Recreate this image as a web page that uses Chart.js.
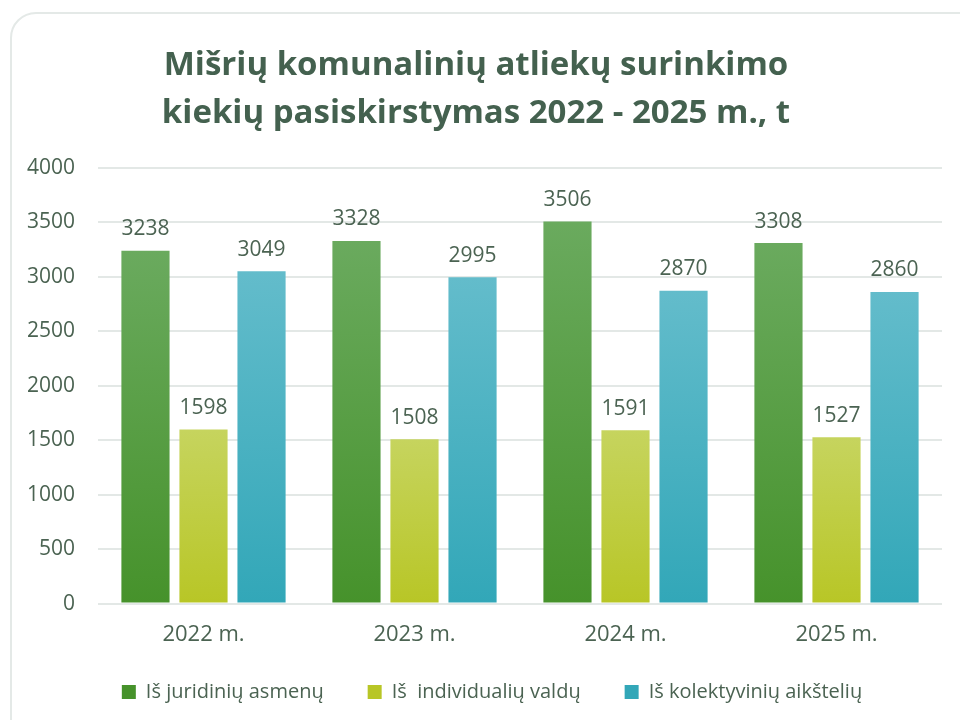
<!DOCTYPE html>
<html>
<head>
<meta charset="utf-8">
<script src="https://cdn.jsdelivr.net/npm/chart.js@4.4.1/dist/chart.umd.min.js"></script>
<style>
  html, body { margin: 0; padding: 0; background: #fff; overflow: hidden; }
  #card {
    position: absolute; left: 10px; top: 12px; width: 990px; height: 760px;
    border: 2px solid #e4e9e7; border-radius: 26px; box-sizing: border-box;
  }
  #wrap { position: absolute; left: 0; top: 0; width: 960px; height: 720px; }
</style>
</head>
<body>
<div id="card"></div>
<div id="wrap"><canvas id="chart" width="960" height="720"></canvas></div>
<script>
// Data
const years = ['2022 m.', '2023 m.', '2024 m.', '2025 m.'];
const juridiniu = [3238, 3328, 3506, 3308];
const individualiu = [1598, 1508, 1591, 1527];
const kolektyviniu = [3049, 2995, 2870, 2860];
const seriesNames = ['Iš juridinių asmenų', 'Iš  individualių valdų', 'Iš kolektyvinių aikštelių'];

const textColor = '#4b6352';
const fontFam = '"Open Sans", "Noto Sans", sans-serif';

// gradient per bar, light on top, darker at base
const barGradient = (top, bottom) => ctx => {
    const chart = ctx.chart;
    if (!chart.chartArea || ctx.parsed == null) return bottom;
    const y = chart.scales.y;
    const y0 = y.getPixelForValue(0);
    const y1 = y.getPixelForValue(ctx.parsed.y);
    if (!isFinite(y1) || y0 === y1) return bottom;
    const g = chart.ctx.createLinearGradient(0, y1, 0, y0);
    g.addColorStop(0, top);
    g.addColorStop(1, bottom);
    return g;
};

// value labels above bars
const valueLabels = {
    id: 'valueLabels',
    afterDatasetsDraw(chart) {
        const c = chart.ctx;
        c.save();
        c.font = '21px ' + fontFam;
        c.fillStyle = textColor;
        c.textAlign = 'center';
        c.textBaseline = 'bottom';
        chart.data.datasets.forEach((ds, i) => {
            chart.getDatasetMeta(i).data.forEach((bar, j) => {
                c.fillText(ds.data[j], bar.x, bar.y - 11);
            });
        });
        c.restore();
    }
};

// legend sits a bit right of the chart centre in the original
const legendShift = {
    id: 'legendShift',
    afterLayout(chart) {
        chart.legend.left += 16;
        chart.legend.right += 16;
    }
};

const barOpts = { categoryPercentage: 0.825, barPercentage: 0.83 };

new Chart(document.getElementById('chart'), {
    type: 'bar',
    data: {
        labels: years,
        datasets: [
            { label: seriesNames[0], data: juridiniu, backgroundColor: barGradient('#6aaa5e', '#46922b'), ...barOpts },
            { label: seriesNames[1], data: individualiu, backgroundColor: barGradient('#c6d45e', '#b8c626'), ...barOpts },
            { label: seriesNames[2], data: kolektyviniu, backgroundColor: barGradient('#63bccb', '#32a7b8'), ...barOpts }
        ]
    },
    options: {
        responsive: false,
        animation: false,
        layout: { padding: { left: 10, right: 18, top: 42, bottom: 8 } },
        plugins: {
            title: {
                display: true,
                text: ['Mišrių komunalinių atliekų surinkimo', 'kiekių pasiskirstymas 2022 - 2025 m., t'],
                color: '#44614f',
                font: { family: fontFam, size: 33, weight: 'bold', lineHeight: 1.45 },
                padding: { top: 0, bottom: 30 }
            },
            legend: {
                position: 'bottom',
                labels: {
                    color: textColor,
                    font: { family: fontFam, size: 20 },
                    boxWidth: 14, boxHeight: 14,
                    padding: 24,
                    generateLabels: chart => Chart.defaults.plugins.legend.labels.generateLabels(chart)
                        .map((l, i, all) => ({ ...l, text: i < all.length - 1 ? l.text + '\u2003' : l.text }))
                }
            },
            tooltip: { enabled: false }
        },
        scales: {
            x: {
                grid: { display: false },
                border: { display: false },
                ticks: { color: textColor, font: { family: fontFam, size: 22 }, padding: 10 }
            },
            y: {
                min: 0, max: 4000,
                afterFit: s => { s.width = 88; },
                grid: { color: '#e3e8e6', lineWidth: 2, drawTicks: false },
                border: { display: false },
                ticks: {
                    stepSize: 500, color: textColor, font: { family: fontFam, size: 21 }, padding: 23,
                    callback: v => String(v)
                }
            }
        }
    },
    plugins: [valueLabels, legendShift]
});
</script>
</body>
</html>
